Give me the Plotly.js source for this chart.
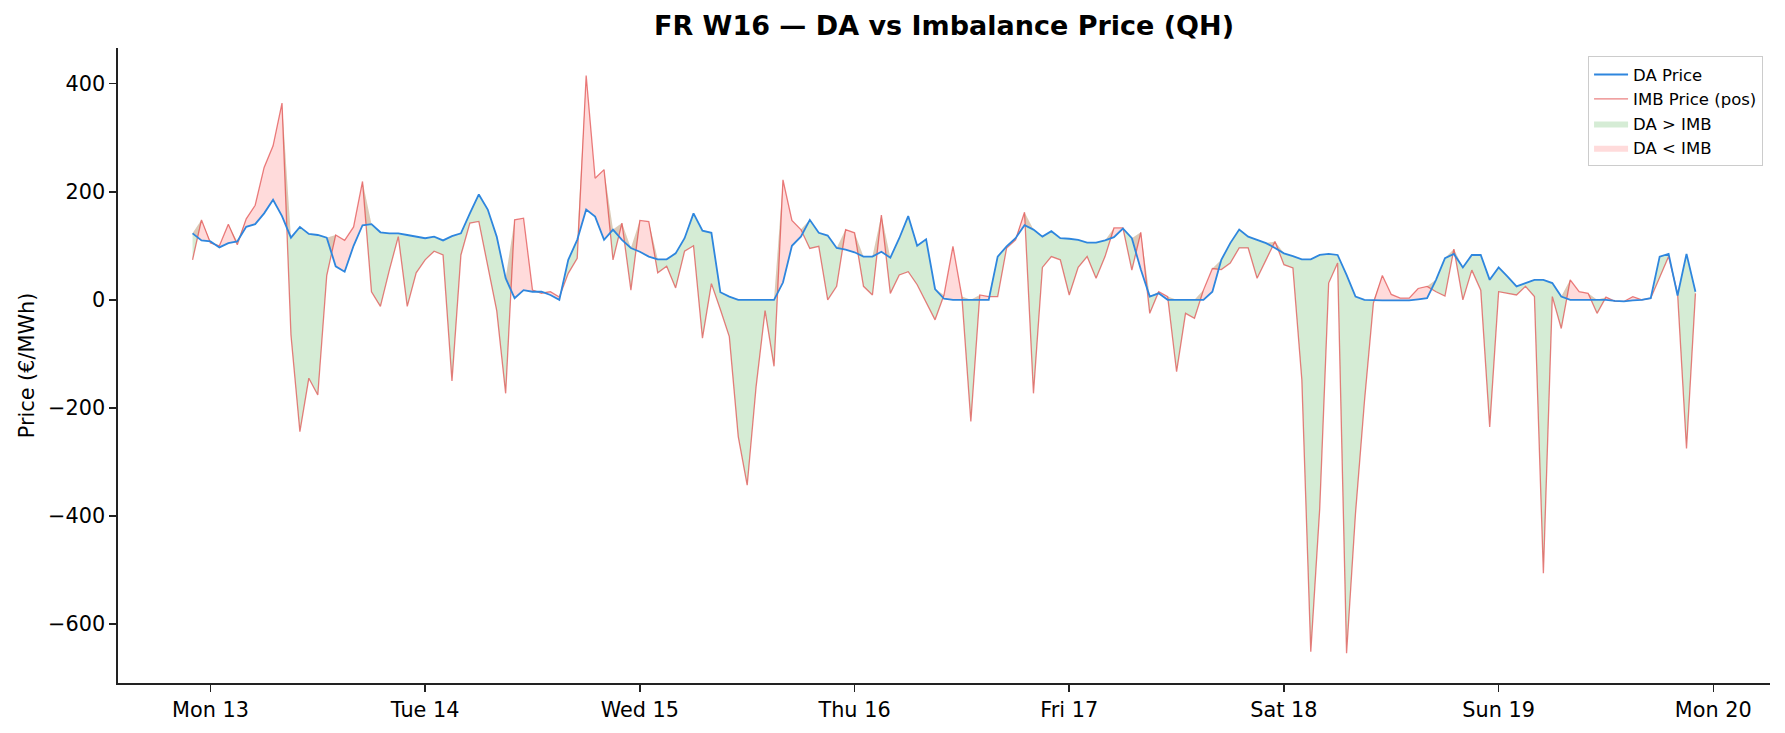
<!DOCTYPE html>
<html>
<head>
<meta charset="utf-8">
<script src="https://cdn.plot.ly/plotly-3.0.1.min.js"></script>
<style>
  html, body { margin: 0; padding: 0; background: #fff; }
  #GRAPH { width: 1785px; height: 733px; }
</style>
</head>
<body>
<div id="GRAPH"></div>
<script>
// hourly readings, first point = Sun 12 Apr 2026 22:00 (UTC), one value per hour
var START_UTC = Date.UTC(2026, 3, 12, 22, 0);

var daPrice = [
  123, 110, // Sun 22-23
  108, 97, 105, 108, 135, 140, 160, 185, 155, 115, 135, 122, 120, 115, 62, 52, 100, 138, 140, 125, 123, 123, 120, 117, // Mon
  114, 117, 110, 118, 123, 160, 195, 167, 117, 40, 3, 18, 15, 15, 9, 0, 74, 111, 167, 154, 111, 130, 111, 96, // Tue
  89, 80, 75, 75, 86, 114, 160, 128, 124, 14, 6, 0, 0, 0, 0, 0, 32, 100, 117, 148, 124, 119, 96, 93, // Wed
  88, 80, 80, 89, 78, 114, 155, 100, 112, 20, 2, 0, 0, 0, 0, 0, 80, 99, 114, 138, 130, 117, 127, 114, // Thu
  113, 111, 106, 106, 110, 116, 132, 114, 56, 6, 12, 0, 0, 0, 0, 0, 15, 74, 105, 130, 117, 111, 105, 96, // Fri
  86, 81, 75, 75, 83, 85, 83, 46, 6, 0, -1, -1, -1, -1, -1, 1, 3, 37, 77, 85, 60, 83, 83, 37, // Sat
  60, 43, 25, 31, 37, 37, 31, 6, 0, 0, 0, 0, 0, -2, -3, -1, 0, 3, 80, 85, 8, 85, 15 // Sun
];

var imbPrice = [
  74, 148, // Sun 22-23
  105, 100, 140, 102, 150, 175, 245, 285, 364, -65, -244, -145, -176, 45, 120, 110, 135, 219, 15, -12, 55, 117, -12, 50, // Mon
  74, 90, 83, -150, 83, 142, 145, 65, -20, -173, 148, 151, 18, 12, 15, 5, 49, 77, 415, 225, 241, 74, 142, 18, // Tue
  147, 145, 50, 62, 22, 90, 100, -71, 30, -18, -68, -253, -343, -160, -20, -123, 222, 147, 130, 95, 99, 0, 25, 130, // Wed
  124, 25, 9, 157, 12, 46, 52, 28, -6, -37, 9, 99, 6, -225, 9, 6, 6, 96, 111, 162, -173, 60, 80, 74, // Thu
  9, 60, 80, 40, 80, 133, 133, 55, 125, -25, 15, 6, -133, -25, -34, 18, 58, 56, 68, 96, 96, 40, 74, 108, // Fri
  65, 59, -148, -651, -386, 31, 68, -654, -395, -188, -6, 45, 10, 3, 3, 21, 25, 15, 7, 94, 0, 55, 18, -235, // Sat
  15, 12, 9, 25, 6, -506, 6, -53, 37, 15, 12, -25, 5, -3, -3, 6, 0, 3, 40, 80, 12, -275, 12 // Sun
];

var yTicks = [-600, -400, -200, 0, 200, 400];
var chartTitle = 'FR W16 — DA vs Imbalance Price (QH)';
var yLabel = 'Price (€/MWh)';

var FONT = 'DejaVu Sans, Liberation Sans, sans-serif';
var AXIS_COLOR = '#222';

function hourStamps(n) {
  var out = [];
  for (var i = 0; i < n; i++) {
    var d = new Date(START_UTC + i * 3600000);
    out.push(d.toISOString().slice(0, 19).replace('T', ' '));
  }
  return out;
}

var times = hourStamps(daPrice.length);
var upper = daPrice.map(function (v, i) { return Math.max(v, imbPrice[i]); });

function baseTrace(y) {
  return {
    x: times, y: y, mode: 'lines', line: { width: 0, color: 'rgba(0,0,0,0)' },
    showlegend: false, hoverinfo: 'skip'
  };
}

function fillTrace(y, name, color, rank) {
  return {
    x: times, y: y, mode: 'lines', name: name, fill: 'tonexty',
    fillcolor: color, line: { width: 0, color: color }, legendrank: rank
  };
}

var traces = [
  baseTrace(imbPrice),
  fillTrace(upper, 'DA > IMB', 'rgba(44,160,44,0.2)', 3),
  baseTrace(daPrice),
  fillTrace(upper, 'DA < IMB', 'rgba(255,40,40,0.17)', 4),
  {
    x: times, y: imbPrice, mode: 'lines', name: 'IMB Price (pos)',
    line: { color: 'rgba(220,45,45,0.6)', width: 1.3 }, legendrank: 2
  },
  {
    x: times, y: daPrice, mode: 'lines', name: 'DA Price',
    line: { color: '#2E86DE', width: 1.8 }, legendrank: 1
  }
];

var layout = {
  width: 1785,
  height: 733,
  margin: { l: 118, r: 15, t: 48, b: 50 },
  paper_bgcolor: '#fff',
  plot_bgcolor: '#fff',
  font: { family: FONT, color: '#000', size: 20.8 },
  title: {
    text: chartTitle,
    font: { family: FONT, size: 27, weight: 'bold', color: '#000' },
    x: 0.5, xref: 'paper', y: 0.965, yref: 'container', yanchor: 'middle'
  },
  xaxis: {
    type: 'date',
    range: ['2026-04-12 13:40', '2026-04-20 06:20'],
    tick0: '2026-04-13', dtick: 86400000, tickformat: '%a %d',
    showgrid: false, zeroline: false,
    showline: true, linecolor: AXIS_COLOR, linewidth: 1.6,
    ticks: 'outside', ticklen: 7, tickwidth: 1.6, tickcolor: AXIS_COLOR,
    tickfont: { size: 20.8 }
  },
  yaxis: {
    range: [-709, 466],
    tickvals: yTicks,
    showgrid: false, zeroline: false,
    showline: true, linecolor: AXIS_COLOR, linewidth: 1.6,
    ticks: 'outside', ticklen: 7, tickwidth: 1.6, tickcolor: AXIS_COLOR,
    tickfont: { size: 20.8 },
    title: { text: yLabel, font: { size: 20.8 }, standoff: 8 }
  },
  showlegend: true,
  legend: {
    x: 0.9958, xanchor: 'right', y: 0.987, yanchor: 'top',
    traceorder: 'normal',
    bgcolor: 'rgba(255,255,255,0.85)', bordercolor: '#cccccc', borderwidth: 1,
    font: { size: 16.5 }, itemwidth: 34, tracegroupgap: 0
  }
};

Plotly.newPlot('GRAPH', traces, layout, { displayModeBar: false, staticPlot: true });
</script>
</body>
</html>
